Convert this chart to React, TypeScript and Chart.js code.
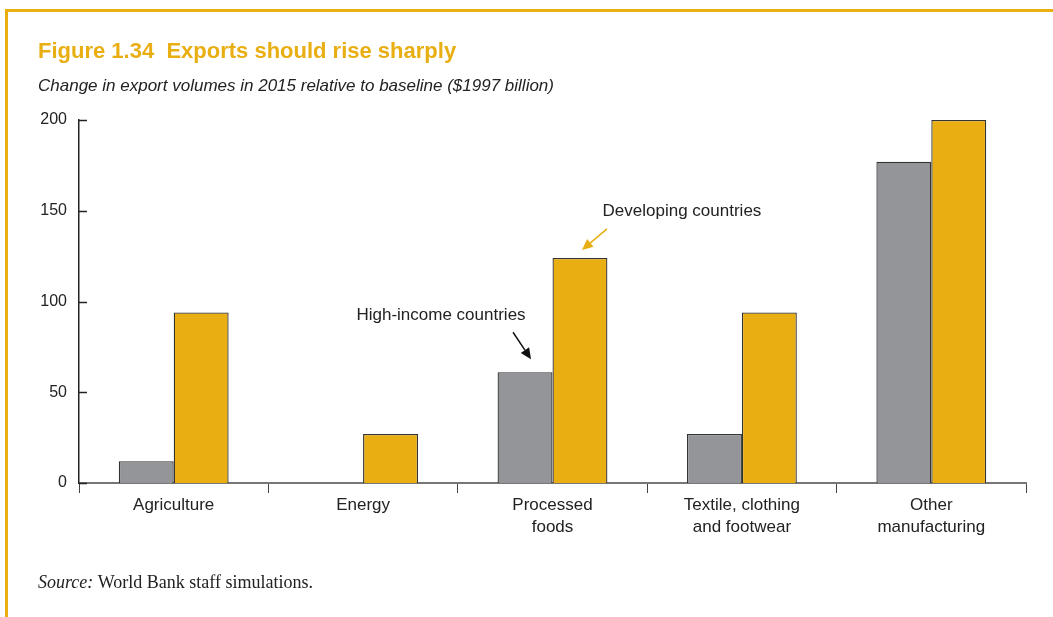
import React, { useEffect, useRef } from "react";
import { Chart, registerables } from "chart.js";

Chart.register(...registerables);

const categories: (string | string[])[] = [
  "Agriculture",
  "Energy",
  ["Processed", "foods"],
  ["Textile, clothing", "and footwear"],
  ["Other", "manufacturing"],
];
const highIncome = [12, 0, 61, 27, 177];
const developing = [94, 27, 124, 94, 200];
const yTicks = [0, 50, 100, 150, 200];

const ORANGE = "#E8AE12";
const GRAY = "#939598";
const TEXT = "#222222";
const SANS = "'Liberation Sans', Arial, Helvetica, sans-serif";
const SERIF = "'Liberation Serif', 'Times New Roman', serif";

const decor = {
  id: "decor",
  beforeDraw(chart: any) {
    const ctx = chart.ctx;
    ctx.save();
    ctx.fillStyle = "#ffffff";
    ctx.fillRect(0, 0, chart.width, chart.height);
    // frame
    ctx.fillStyle = ORANGE;
    ctx.fillRect(5, 9, chart.width - 5, 3);
    ctx.fillRect(5, 9, 3, chart.height - 9);
    // title
    ctx.fillStyle = ORANGE;
    ctx.font = "bold 22px " + SANS;
    ctx.textBaseline = "alphabetic";
    ctx.textAlign = "left";
    ctx.fillText("Figure 1.34  Exports should rise sharply", 38, 58);
    ctx.fillStyle = TEXT;
    ctx.font = "italic 17px " + SANS;
    ctx.fillText("Change in export volumes in 2015 relative to baseline ($1997 billion)", 38, 91);
    // source
    ctx.font = "italic 18px " + SERIF;
    ctx.fillText("Source:", 38, 588);
    const w = ctx.measureText("Source:").width;
    ctx.font = "18px " + SERIF;
    ctx.fillText(" World Bank staff simulations.", 38 + w, 588);
    ctx.restore();
  },
  afterDraw(chart: any) {
    const ctx = chart.ctx;
    const ys = chart.scales.y;
    const xs = chart.scales.x;
    ctx.save();
    // y ticks inward
    ctx.strokeStyle = "#222";
    ctx.lineWidth = 1.5;
    yTicks.forEach((v) => {
      const py = Math.round(ys.getPixelForValue(v)) + 0.5;
      ctx.beginPath();
      ctx.moveTo(xs.left, py);
      ctx.lineTo(xs.left + 8, py);
      ctx.stroke();
    });
    // annotations
    const meta0 = chart.getDatasetMeta(0).data[2];
    const meta1 = chart.getDatasetMeta(1).data[2];
    ctx.font = "17px " + SANS;
    ctx.textAlign = "center";
    ctx.textBaseline = "middle";
    // developing
    const dx = meta1.x, dy = meta1.y;
    ctx.fillStyle = TEXT;
    ctx.fillText("Developing countries", dx + 102, dy - 47);
    drawArrow(ctx, dx + 27, dy - 29, dx + 2, dy - 8, ORANGE);
    // high income
    const hx = meta0.x, hy = meta0.y;
    ctx.fillStyle = TEXT;
    ctx.fillText("High-income countries", hx - 84, hy - 57);
    drawArrow(ctx, hx - 12, hy - 40, hx + 6, hy - 13, "#111");
    ctx.restore();
  },
};

function drawArrow(ctx: any, x1: number, y1: number, x2: number, y2: number, color: string) {
  const ang = Math.atan2(y2 - y1, x2 - x1);
  const hl = 11, hw = 5;
  const bx = x2 - hl * Math.cos(ang);
  const by = y2 - hl * Math.sin(ang);
  ctx.strokeStyle = color;
  ctx.fillStyle = color;
  ctx.lineWidth = 1.5;
  ctx.beginPath();
  ctx.moveTo(x1, y1);
  ctx.lineTo(bx, by);
  ctx.stroke();
  ctx.beginPath();
  ctx.moveTo(x2, y2);
  ctx.lineTo(bx + hw * Math.sin(ang), by - hw * Math.cos(ang));
  ctx.lineTo(bx - hw * Math.sin(ang), by + hw * Math.cos(ang));
  ctx.closePath();
  ctx.fill();
}

export default function App() {
  const ref = useRef<HTMLCanvasElement>(null);
  useEffect(() => {
    if (!ref.current) return;
    const chart = new Chart(ref.current, {
      type: "bar",
      data: {
        labels: categories as any,
        datasets: [
          {
            label: "High-income countries",
            data: highIncome,
            backgroundColor: GRAY,
            borderColor: "#333",
            borderWidth: 1.3,
            borderSkipped: "bottom",
          },
          {
            label: "Developing countries",
            data: developing,
            backgroundColor: ORANGE,
            borderColor: "#333",
            borderWidth: 1.3,
            borderSkipped: "bottom",
          },
        ],
      },
      options: {
        animation: false,
        responsive: false,
        maintainAspectRatio: false,
        events: [],
        layout: { padding: { left: 0, right: 27, top: 120, bottom: 74 } },
        plugins: { legend: { display: false }, tooltip: { enabled: false } },
        datasets: { bar: { categoryPercentage: 0.58, barPercentage: 1 } },
        scales: {
          x: {
            offset: true,
            grid: {
              offset: true,
              drawOnChartArea: false,
              drawTicks: true,
              tickLength: 10,
              color: "#444",
              lineWidth: 1,
            },
            border: { display: true, color: "#777", width: 2 },
            ticks: {
              color: TEXT,
              font: { family: SANS, size: 17, lineHeight: 1.25 },
              padding: 2,
              maxRotation: 0,
              autoSkip: false,
            },
            afterFit: (s: any) => {
              s.height = 60;
            },
          },
          y: {
            min: 0,
            max: 200,
            afterBuildTicks: (s: any) => {
              s.ticks = yTicks.map((v) => ({ value: v }));
            },
            grid: { display: false, drawTicks: false },
            border: { display: true, color: "#222", width: 1.5 },
            ticks: {
              color: TEXT,
              font: { family: SANS, size: 16 },
              padding: 12,
            },
            afterFit: (s: any) => {
              s.width = 79;
            },
          },
        },
      },
      plugins: [decor],
    });
    return () => chart.destroy();
  }, []);
  return (
    <div style={{ position: "fixed", left: 0, top: 0, width: 1053, height: 617, background: "#fff" }}>
      <canvas ref={ref} width={1053} height={617} style={{ width: 1053, height: 617, display: "block" }} />
    </div>
  );
}
